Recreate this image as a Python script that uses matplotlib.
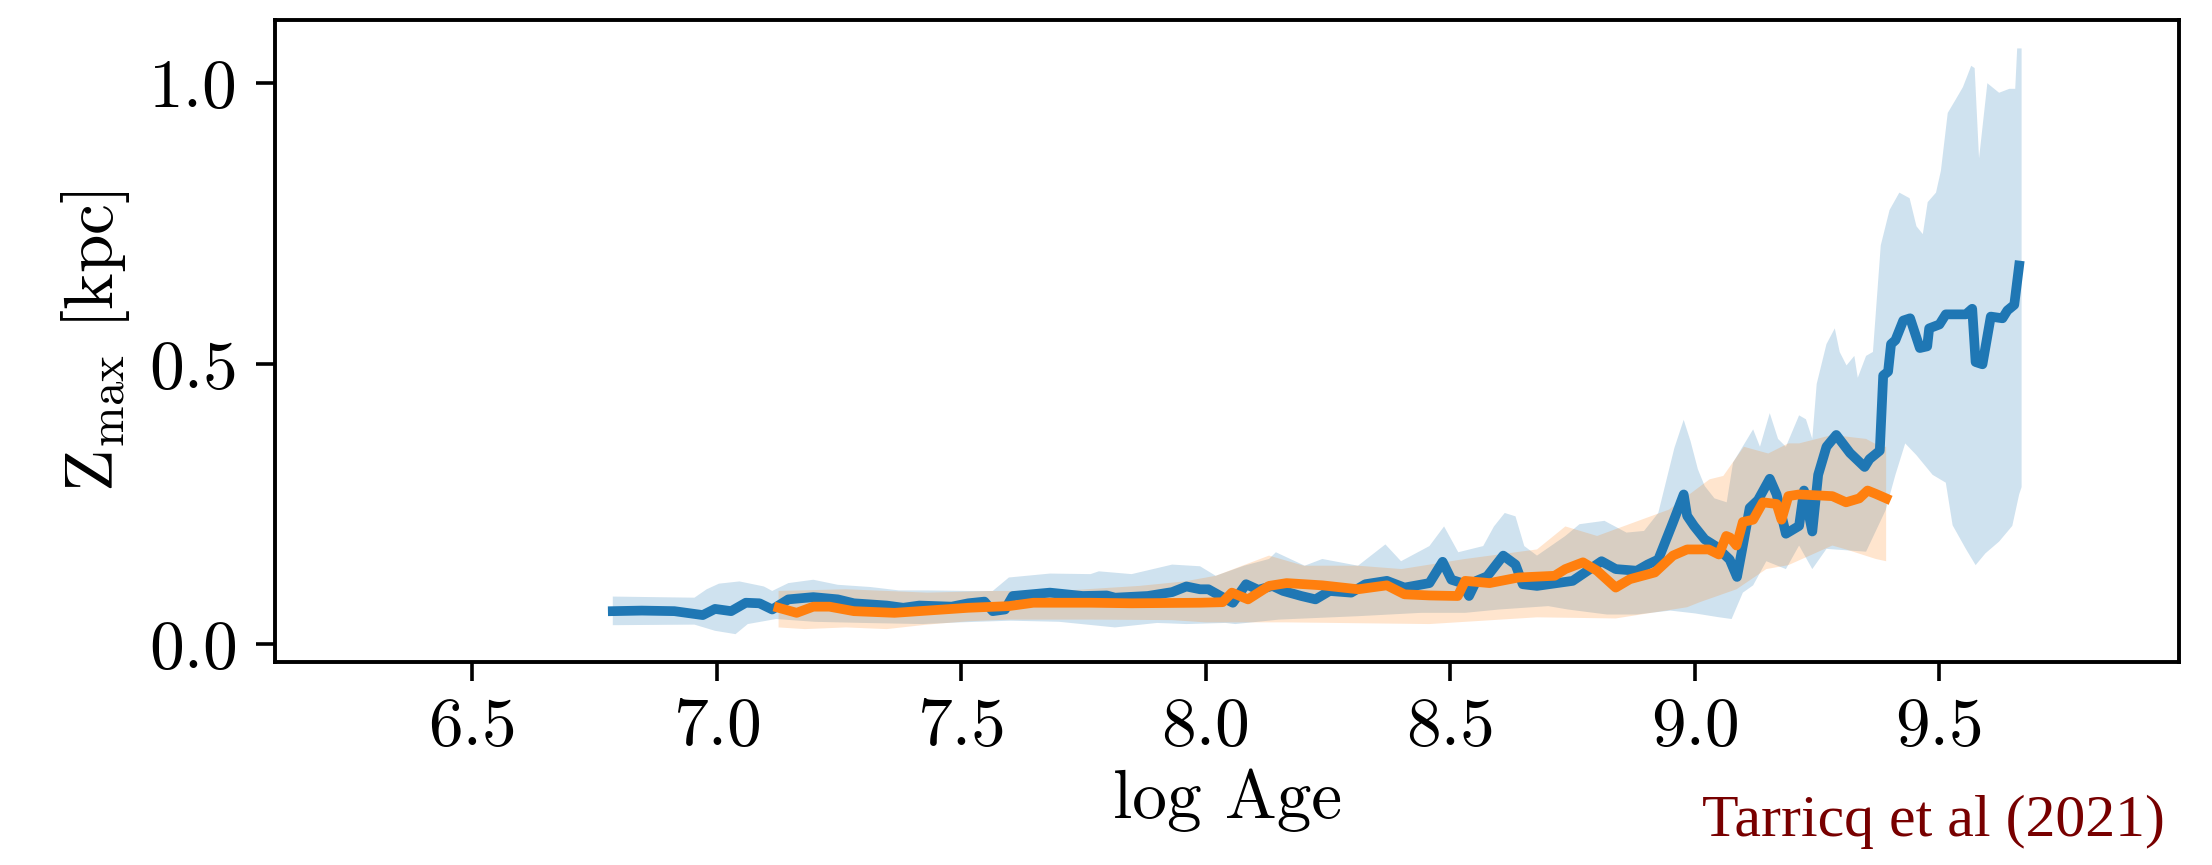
import matplotlib
matplotlib.use("Agg")
import matplotlib.pyplot as plt
from matplotlib.ticker import FuncFormatter
import numpy as np

# blue sample: running median of Zmax vs log age
blue_x = [6.787, 6.846, 6.913, 6.971, 6.996, 7.029, 7.059, 7.087, 7.113, 7.146,
          7.197, 7.247, 7.280, 7.347, 7.381, 7.414, 7.480, 7.514, 7.547, 7.564,
          7.589, 7.605, 7.681, 7.748, 7.797, 7.814, 7.881, 7.931, 7.960, 7.988,
          8.005, 8.042, 8.055, 8.082, 8.107, 8.136, 8.158, 8.195, 8.224, 8.253,
          8.297, 8.326, 8.370, 8.406, 8.457, 8.484, 8.502, 8.524, 8.538, 8.553,
          8.575, 8.608, 8.633, 8.648, 8.677, 8.750, 8.809, 8.838, 8.881, 8.903,
          8.925, 8.955, 8.977, 8.984, 8.998, 9.020, 9.042, 9.071, 9.086, 9.098,
          9.112, 9.129, 9.153, 9.167, 9.186, 9.213, 9.223, 9.240, 9.252, 9.269,
          9.289, 9.317, 9.347, 9.357, 9.378, 9.385, 9.395, 9.401, 9.410, 9.426,
          9.440, 9.460, 9.475, 9.479, 9.500, 9.513, 9.554, 9.567, 9.574, 9.588,
          9.605, 9.629, 9.639, 9.653, 9.663]
blue_y = [0.059, 0.060, 0.059, 0.052, 0.063, 0.059, 0.074, 0.073, 0.062, 0.080,
          0.084, 0.080, 0.073, 0.069, 0.065, 0.069, 0.067, 0.073, 0.076, 0.059,
          0.062, 0.086, 0.092, 0.086, 0.087, 0.083, 0.086, 0.093, 0.103, 0.098,
          0.098, 0.080, 0.074, 0.107, 0.097, 0.104, 0.095, 0.086, 0.080, 0.095,
          0.092, 0.107, 0.113, 0.101, 0.109, 0.147, 0.115, 0.109, 0.086, 0.113,
          0.121, 0.158, 0.142, 0.107, 0.104, 0.113, 0.148, 0.134, 0.131, 0.142,
          0.151, 0.217, 0.267, 0.229, 0.211, 0.187, 0.175, 0.151, 0.120, 0.176,
          0.243, 0.257, 0.295, 0.267, 0.197, 0.211, 0.274, 0.201, 0.302, 0.352,
          0.373, 0.341, 0.316, 0.330, 0.345, 0.479, 0.486, 0.535, 0.542, 0.577,
          0.581, 0.528, 0.531, 0.563, 0.570, 0.588, 0.588, 0.598, 0.503, 0.499,
          0.584, 0.581, 0.595, 0.605, 0.675]

blue_hi_x = [6.787, 6.954, 6.979, 7.004, 7.046, 7.096, 7.113, 7.146, 7.197, 7.247,
             7.314, 7.372, 7.430, 7.514, 7.564, 7.597, 7.681, 7.764, 7.781, 7.848,
             7.931, 7.988, 8.020, 8.078, 8.129, 8.143, 8.202, 8.238, 8.311, 8.367,
             8.399, 8.457, 8.487, 8.516, 8.567, 8.589, 8.611, 8.633, 8.651, 8.677,
             8.735, 8.764, 8.815, 8.860, 8.896, 8.925, 8.958, 8.977, 8.991, 9.006,
             9.020, 9.040, 9.065, 9.078, 9.119, 9.133, 9.153, 9.170, 9.186, 9.213,
             9.227, 9.240, 9.249, 9.269, 9.286, 9.296, 9.310, 9.326, 9.333, 9.350,
             9.364, 9.380, 9.398, 9.418, 9.439, 9.453, 9.466, 9.476, 9.493, 9.503,
             9.517, 9.534, 9.548, 9.565, 9.572, 9.581, 9.598, 9.622, 9.643, 9.655,
             9.659, 9.668]
blue_hi_y = [0.085, 0.083, 0.098, 0.108, 0.112, 0.103, 0.095, 0.109, 0.115, 0.106,
             0.102, 0.096, 0.096, 0.095, 0.095, 0.119, 0.126, 0.125, 0.130, 0.125,
             0.142, 0.139, 0.122, 0.140, 0.152, 0.164, 0.140, 0.152, 0.140, 0.178,
             0.148, 0.175, 0.210, 0.164, 0.175, 0.210, 0.234, 0.228, 0.175, 0.158,
             0.193, 0.214, 0.220, 0.199, 0.202, 0.234, 0.350, 0.400, 0.362, 0.312,
             0.282, 0.260, 0.253, 0.324, 0.383, 0.352, 0.412, 0.366, 0.352, 0.408,
             0.401, 0.366, 0.464, 0.535, 0.563, 0.521, 0.497, 0.514, 0.475, 0.514,
             0.521, 0.711, 0.774, 0.805, 0.795, 0.745, 0.731, 0.788, 0.805, 0.844,
             0.947, 0.972, 0.993, 1.031, 1.027, 0.866, 1.000, 0.983, 0.990, 0.990,
             1.062, 1.062]

blue_lo_x = [6.787, 6.954, 6.996, 7.038, 7.063, 7.121, 7.200, 7.300, 7.420, 7.497,
             7.600, 7.700, 7.814, 7.900, 7.960, 8.040, 8.060, 8.150, 8.230, 8.310,
             8.440, 8.530, 8.600, 8.700, 8.740, 8.820, 8.880, 8.950, 9.000, 9.050,
             9.075, 9.098, 9.119, 9.146, 9.186, 9.213, 9.240, 9.269, 9.350, 9.390,
             9.410, 9.430, 9.453, 9.486, 9.513, 9.527, 9.554, 9.574, 9.594, 9.622,
             9.649, 9.663, 9.668]
blue_lo_y = [0.034, 0.035, 0.024, 0.018, 0.036, 0.045, 0.040, 0.038, 0.036, 0.039,
             0.042, 0.040, 0.030, 0.038, 0.036, 0.038, 0.036, 0.044, 0.047, 0.050,
             0.056, 0.056, 0.062, 0.068, 0.062, 0.053, 0.053, 0.060, 0.055, 0.048,
             0.045, 0.092, 0.105, 0.148, 0.134, 0.176, 0.134, 0.170, 0.165, 0.239,
             0.302, 0.358, 0.337, 0.302, 0.288, 0.212, 0.170, 0.141, 0.162, 0.183,
             0.211, 0.267, 0.280]

# orange sample
orange_x = [7.126, 7.163, 7.197, 7.230, 7.280, 7.363, 7.430, 7.514, 7.597, 7.647,
            7.764, 7.848, 7.988, 8.034, 8.053, 8.086, 8.129, 8.165, 8.238, 8.311,
            8.370, 8.406, 8.457, 8.515, 8.530, 8.580, 8.639, 8.713, 8.735, 8.771,
            8.800, 8.838, 8.867, 8.918, 8.955, 8.984, 9.028, 9.049, 9.064, 9.072,
            9.085, 9.098, 9.119, 9.139, 9.167, 9.177, 9.191, 9.213, 9.281, 9.309,
            9.336, 9.353, 9.370, 9.391]
orange_y = [0.065, 0.056, 0.067, 0.067, 0.059, 0.056, 0.060, 0.065, 0.068, 0.074,
            0.074, 0.073, 0.074, 0.075, 0.092, 0.080, 0.104, 0.109, 0.105, 0.098,
            0.105, 0.089, 0.087, 0.086, 0.113, 0.109, 0.119, 0.122, 0.134, 0.146,
            0.131, 0.101, 0.116, 0.128, 0.158, 0.169, 0.169, 0.160, 0.193, 0.190,
            0.176, 0.218, 0.222, 0.253, 0.250, 0.222, 0.264, 0.267, 0.264, 0.253,
            0.260, 0.274, 0.268, 0.260]

orange_hi_x = [7.126, 7.264, 7.430, 7.564, 7.700, 7.864, 7.956, 8.020, 8.129, 8.200,
               8.311, 8.400, 8.530, 8.677, 8.735, 8.800, 8.875, 8.947, 9.030, 9.058,
               9.100, 9.150, 9.191, 9.213, 9.281, 9.350, 9.380, 9.391]
orange_hi_y = [0.095, 0.098, 0.092, 0.095, 0.095, 0.104, 0.112, 0.122, 0.158, 0.140,
               0.140, 0.134, 0.152, 0.169, 0.210, 0.193, 0.217, 0.240, 0.294, 0.300,
               0.352, 0.340, 0.358, 0.358, 0.373, 0.366, 0.352, 0.352]

orange_lo_x = [7.126, 7.180, 7.264, 7.347, 7.430, 7.514, 7.597, 7.764, 7.931, 8.000,
               8.165, 8.457, 8.677, 8.838, 8.984, 9.010, 9.085, 9.146, 9.191, 9.281,
               9.309, 9.370, 9.391]
orange_lo_y = [0.030, 0.027, 0.030, 0.027, 0.035, 0.041, 0.044, 0.044, 0.043, 0.039,
               0.039, 0.036, 0.048, 0.046, 0.066, 0.075, 0.098, 0.134, 0.141, 0.176,
               0.169, 0.152, 0.148]

xticks = [6.5, 7.0, 7.5, 8.0, 8.5, 9.0, 9.5]
yticks = [0.0, 0.5, 1.0]

plt.rcParams['font.family'] = 'serif'
plt.rcParams['font.serif'] = ['cmr10', 'DejaVu Serif']
plt.rcParams['mathtext.fontset'] = 'cm'
plt.rcParams['axes.formatter.use_mathtext'] = True

fig = plt.figure(figsize=(22.12, 8.65), dpi=100)
ax = fig.add_axes([0.1245, 0.2347, 0.8606, 0.7422])

# bands first, then the medians on top
ax.fill(blue_hi_x + blue_lo_x[::-1], blue_hi_y + blue_lo_y[::-1],
        color='tab:blue', alpha=0.21, lw=0)
ax.fill(orange_hi_x + orange_lo_x[::-1], orange_hi_y + orange_lo_y[::-1],
        color='tab:orange', alpha=0.2, lw=0)
ax.plot(blue_x, blue_y, color='tab:blue', lw=7, solid_joinstyle='round')
ax.plot(orange_x, orange_y, color='tab:orange', lw=7, solid_joinstyle='round')

ax.set_xlim(6.097, 9.99)
ax.set_ylim(-0.0316, 1.1127)
ax.set_xticks(xticks)
ax.set_yticks(yticks)
ax.xaxis.set_major_formatter(FuncFormatter(lambda v, p: '%.1f' % v))
ax.yaxis.set_major_formatter(FuncFormatter(lambda v, p: '%.1f' % v))
ax.tick_params(labelsize=50, length=14, width=2.6)
ax.tick_params(axis='x', pad=11)
ax.tick_params(axis='y', pad=13)
for s in ax.spines.values():
    s.set_linewidth(2.8)

ax.set_xlabel('log Age', fontsize=50, labelpad=8)
ax.set_ylabel(r'Z$_{\rm max}$ [kpc]', fontsize=50, labelpad=12)

fig.text(0.7695, 0.0335, 'Tarricq et al (2021)', color='#780000',
         fontsize=43, family='Liberation Serif', va='baseline')

fig.savefig('out.png', dpi=100)
